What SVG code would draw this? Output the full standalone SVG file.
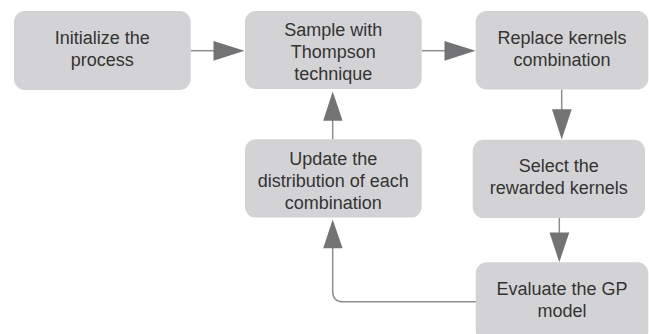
<svg xmlns="http://www.w3.org/2000/svg" width="649" height="334" viewBox="0 0 649 334">
<style>
.box{fill:#d3d3d5;}
.lbl{font-family:"Liberation Sans",Arial,sans-serif;font-size:18px;fill:#333333;text-anchor:middle;}
.ln{fill:none;stroke:#8e8e90;stroke-width:1.5;}
.hd{fill:#737375;}
</style>
<rect width="649" height="334" fill="#ffffff"/>
<g id="connectors">
<path class="ln" d="M190.7 50.7 H214"/>
<polygon class="hd" points="213.5,41 244.5,50.7 213.5,60.7"/>
<path class="ln" d="M421.7 50.7 H445"/>
<polygon class="hd" points="444.5,41 475.5,50.7 444.5,60.7"/>
<path class="ln" d="M561.7 89.5 V110"/>
<polygon class="hd" points="552,109.3 571.7,109.3 561.7,139.5"/>
<path class="ln" d="M559.3 218 V233"/>
<polygon class="hd" points="549.5,232.5 569.3,232.5 559.3,262.3"/>
<path class="ln" d="M476 301.7 H343 Q332.7 301.7 332.7 291.4 V247"/>
<polygon class="hd" points="323.2,248.3 342.6,248.3 332.7,219.5"/>
<path class="ln" d="M332.7 139.3 V120"/>
<polygon class="hd" points="323.2,120.7 342.6,120.7 332.7,91.5"/>
</g>
<g id="n1">
<rect class="box" x="14" y="11" width="176.7" height="79" rx="11"/>
<text class="lbl" x="102.3" y="44">Initialize the</text>
<text class="lbl" x="102.3" y="65.5">process</text>
</g>
<g id="n2">
<rect class="box" x="245" y="11" width="176.7" height="78" rx="11"/>
<text class="lbl" x="333.3" y="36">Sample with</text>
<text class="lbl" x="333.3" y="58">Thompson</text>
<text class="lbl" x="333.3" y="80">technique</text>
</g>
<g id="n3">
<rect class="box" x="475.7" y="11" width="172.6" height="78.5" rx="11"/>
<text class="lbl" x="562" y="43.7">Replace kernels</text>
<text class="lbl" x="562" y="65.5">combination</text>
</g>
<g id="n4">
<rect class="box" x="245" y="139.3" width="176.7" height="78.3" rx="11"/>
<text class="lbl" x="333.3" y="164.5">Update the</text>
<text class="lbl" x="333.3" y="186.5">distribution of each</text>
<text class="lbl" x="333.3" y="208.5">combination</text>
</g>
<g id="n5">
<rect class="box" x="472.7" y="139.8" width="172.3" height="78.3" rx="11"/>
<text class="lbl" x="558.8" y="172.3">Select the</text>
<text class="lbl" x="558.8" y="193.8">rewarded kernels</text>
</g>
<g id="n6">
<rect class="box" x="475.8" y="262.3" width="172.5" height="80" rx="11"/>
<text class="lbl" x="562" y="295.2">Evaluate the GP</text>
<text class="lbl" x="562" y="316.5">model</text>
</g>
</svg>
